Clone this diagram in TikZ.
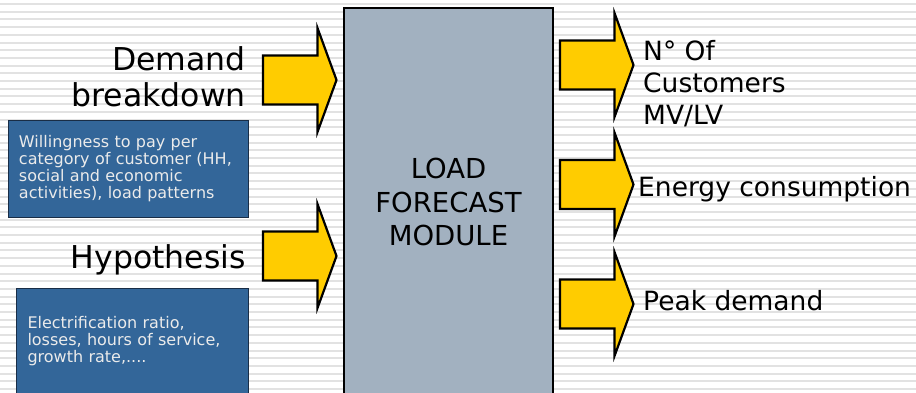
\documentclass[tikz,border=0pt]{standalone}
\usepackage{fontspec}
\setmainfont{DejaVu Sans}
\definecolor{stripe}{RGB}{226,226,226}
\definecolor{mainfill}{RGB}{162,177,192}
\definecolor{boxblue}{RGB}{51,102,153}
\definecolor{boxedge}{RGB}{25,45,70}
\definecolor{arrowyellow}{RGB}{255,204,0}
\definecolor{boxtext}{RGB}{235,235,235}
\tikzset{
  arrowfill/.style={fill=arrowyellow, draw=black, line width=2.2pt, line join=miter},
  blockarrow/.pic={\draw[arrowfill] (0,-24.5) -- (54.5,-24.5) -- (54.5,-52) -- (73.5,0) -- (54.5,52) -- (54.5,24.5) -- (0,24.5) -- cycle;},
  mainbox/.style={draw=black, line width=2.4pt, fill=mainfill, inner sep=0pt, align=center,
    font=\fontsize{27.5}{33.3}\selectfont},
  bluebox/.style={draw=boxedge, line width=1pt, fill=boxblue, text=boxtext, align=left,
    inner xsep=11pt, inner ysep=0pt, font=\fontsize{16}{17}\selectfont},
  biglabel/.style={inner sep=0pt, font=\fontsize{31.5}{36}\selectfont},
  outlabel/.style={inner sep=0pt, align=left, font=\fontsize{26.5}{31.7}\selectfont},
}
\begin{document}
\begin{tikzpicture}[x=1pt,y=-1pt]
\useasboundingbox (0,0) rectangle (916,392);
\clip (0,0) rectangle (916,392);
\fill[white] (0,0) rectangle (916,392);
\foreach \i in {0,...,50} {
  \draw[stripe, line width=2pt] (0,4+7.7*\i) -- (916,4+7.7*\i);
}
% central module
\node[mainbox, anchor=north, minimum width=209, minimum height=388] (module) at (448.5,7)
  {LOAD\\FORECAST\\MODULE};
% input arrows
\pic at (263,80) {blockarrow};
\pic at (263,256) {blockarrow};
% output arrows
\pic at (560,65) {blockarrow};
\pic at (560,184.5) {blockarrow};
\pic at (560,304) {blockarrow};
% input labels
\node[biglabel, align=right, anchor=east] (demand) at (246,77) {Demand\\breakdown};
\node[biglabel, anchor=base east] (hyp) at (246,268.3) {Hypothesis};
% blue boxes
\node[bluebox, minimum width=240, minimum height=97, text width=218] (wtp) at (128,168.5)
  {Willingness to pay per\\category of customer (HH,\\social and economic\\activities), load patterns};
\node[bluebox, anchor=north west, minimum width=232, minimum height=106, text width=210] (elec) at (16,288)
  {Electrification ratio,\\losses, hours of service,\\growth rate,....};
% output labels
\node[outlabel, anchor=west] (cust) at (643,83.6) {N° Of\\Customers\\MV/LV};
\node[outlabel, anchor=base west] (energy) at (638,196.7) {Energy consumption};
\node[outlabel, anchor=base west] (peak) at (643,310.7) {Peak demand};
\end{tikzpicture}
\end{document}
